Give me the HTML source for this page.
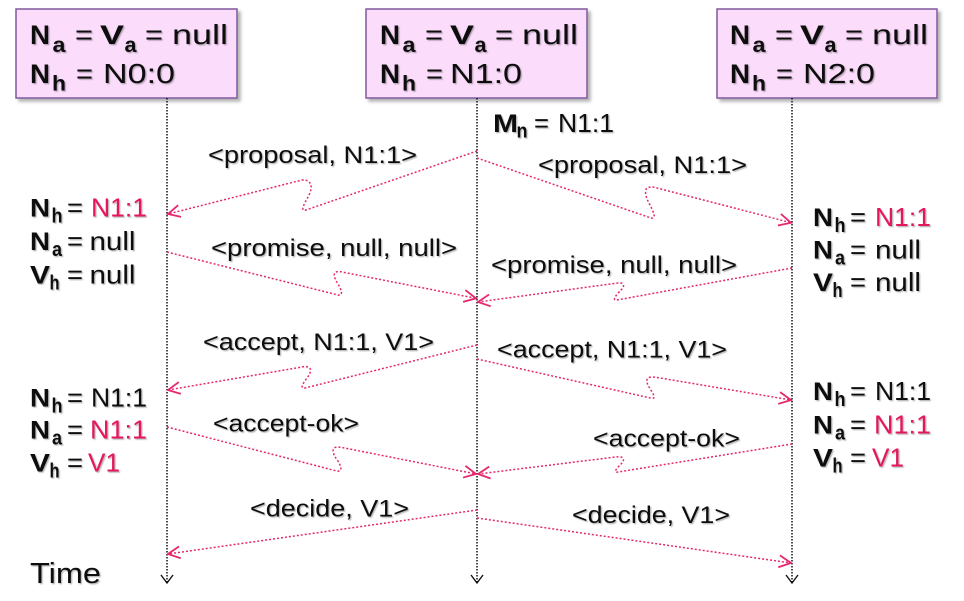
<!DOCTYPE html>
<html>
<head>
<meta charset="utf-8">
<style>
  html,body{margin:0;padding:0;background:#fff;}
  svg{display:block;}
  text{font-family:"Liberation Sans","DejaVu Sans",sans-serif;fill:#111;}
  .b{font-size:27px;font-weight:bold;}
  .s{font-size:21px;font-weight:bold;}
  .r{font-size:28px;}
  .lb{font-size:24px;}
  .sb{font-size:25px;font-weight:bold;}
  .ss{font-size:20px;font-weight:bold;}
  .sr{font-size:26px;}
  .pk{fill:#e3195f;}
  .msg{fill:none;stroke:#e6286e;stroke-width:1.5;stroke-dasharray:2 2;}
  .life{stroke:#111;stroke-width:1.5;stroke-dasharray:1.5 1.5;}
</style>
</head>
<body>
<svg width="964" height="601" viewBox="0 0 964 601" xmlns="http://www.w3.org/2000/svg">
<defs>
  <filter id="ts" x="-10%" y="-30%" width="125%" height="170%">
    <feDropShadow dx="1.2" dy="1.2" stdDeviation="0.6" flood-color="#000" flood-opacity="0.3"/>
  </filter>
  <filter id="bsh" x="-5%" y="-5%" width="115%" height="120%">
    <feDropShadow dx="3" dy="3" stdDeviation="1.5" flood-color="#000" flood-opacity="0.3"/>
  </filter>
  <marker id="ah" markerUnits="userSpaceOnUse" markerWidth="30" markerHeight="30" refX="15" refY="15" orient="auto" overflow="visible">
    <path d="M3,9 L15,15 L3,21" fill="none" stroke="#e6286e" stroke-width="1.8" stroke-dasharray="none"/>
  </marker>
</defs>

<!-- boxes -->
<rect x="16" y="9" width="221" height="89" fill="#fbdcfb" stroke="#7f5a9e" stroke-width="1.5" filter="url(#bsh)"/>
<rect x="366" y="9" width="221" height="89" fill="#fbdcfb" stroke="#7f5a9e" stroke-width="1.5" filter="url(#bsh)"/>
<rect x="717" y="9" width="220" height="89" fill="#fbdcfb" stroke="#7f5a9e" stroke-width="1.5" filter="url(#bsh)"/>

<!-- lifelines -->
<line class="life" x1="167" y1="98" x2="167" y2="583"/>
<line class="life" x1="477" y1="98" x2="477" y2="583"/>
<line class="life" x1="792" y1="98" x2="792" y2="583"/>
<path d="M161,575 L167,583 L173,575" fill="none" stroke="#111" stroke-width="1.4"/>
<path d="M471,575 L477,583 L483,575" fill="none" stroke="#111" stroke-width="1.4"/>
<path d="M786,575 L792,583 L798,575" fill="none" stroke="#111" stroke-width="1.4"/>

<!-- messages -->
<path class="msg" marker-end="url(#ah)" d="M477,151 L306,210 C300,212 304,204 307,199 C311,192 313,185 309,182 C307,180 305,180 302,180 L168,214"/>
<path class="msg" marker-end="url(#ah)" d="M477,158 L651,218 C657,219 653,211 650,205 C646,198 644,191 647,188 C649,187 651,187 653,187 L791,222.7"/>
<path class="msg" marker-end="url(#ah)" d="M167,252 L338,295 C344,296 341,289 338,284 C334,278 333,273 336,272 C338,271.5 340,271.5 342,272 L476,298.3"/>
<path class="msg" marker-end="url(#ah)" d="M792,268 L617,300 C611,301 617,294 621,290 C625,286 624,283 620,283 C618,283 616,283 614,283.5 L478,302"/>
<path class="msg" marker-end="url(#ah)" d="M477,345 L305,388 C299,389 304,382 307,378 C311,373 312,368 308,367 C306,366.5 304,366.5 302,367 L168,390"/>
<path class="msg" marker-end="url(#ah)" d="M477,359 L651.7,398.3 C657,399 652,392 649,387 C646,382 646,378 650,377.3 C652,377 654,377 656,377.3 L791,400"/>
<path class="msg" marker-end="url(#ah)" d="M167,427 L336.7,471 C343,472 341,466 338,461 C333,455 331,448 336,447.3 C338,447 340,447 342,447.5 L476,474"/>
<path class="msg" marker-end="url(#ah)" d="M792,444 L618,472 C612,473 618,467 621,464 C625,460 624,457 619,456.7 C617,456.7 615,457 613,457.3 L478,474"/>
<path class="msg" marker-end="url(#ah)" d="M477,510 L168,554"/>
<path class="msg" marker-end="url(#ah)" d="M477,518 L791,563"/>

<g filter="url(#ts)">
<!-- box 1 -->
<text class="b" x="30" y="44" textLength="20" lengthAdjust="spacingAndGlyphs">N</text>
<text class="s" x="52.5" y="52" textLength="13" lengthAdjust="spacingAndGlyphs">a</text>
<text class="r" x="75" y="44" textLength="18" lengthAdjust="spacingAndGlyphs">=</text>
<text class="b" x="100" y="44" textLength="24" lengthAdjust="spacingAndGlyphs">V</text>
<text class="s" x="124.5" y="52" textLength="12" lengthAdjust="spacingAndGlyphs">a</text>
<text class="r" x="145" y="44" textLength="18" lengthAdjust="spacingAndGlyphs">=</text>
<text class="r" x="172" y="44" textLength="56" lengthAdjust="spacingAndGlyphs">null</text>
<text class="b" x="30" y="83" textLength="20" lengthAdjust="spacingAndGlyphs">N</text>
<text class="s" x="52" y="90.5" textLength="14" lengthAdjust="spacingAndGlyphs">h</text>
<text class="r" x="76" y="83" textLength="17" lengthAdjust="spacingAndGlyphs">=</text>
<text class="r" x="103" y="83" textLength="72" lengthAdjust="spacingAndGlyphs">N0:0</text>

<!-- box 2 -->
<text class="b" x="380" y="44" textLength="20" lengthAdjust="spacingAndGlyphs">N</text>
<text class="s" x="402.5" y="52" textLength="13" lengthAdjust="spacingAndGlyphs">a</text>
<text class="r" x="425" y="44" textLength="18" lengthAdjust="spacingAndGlyphs">=</text>
<text class="b" x="450" y="44" textLength="24" lengthAdjust="spacingAndGlyphs">V</text>
<text class="s" x="474.5" y="52" textLength="12" lengthAdjust="spacingAndGlyphs">a</text>
<text class="r" x="495" y="44" textLength="18" lengthAdjust="spacingAndGlyphs">=</text>
<text class="r" x="522" y="44" textLength="56" lengthAdjust="spacingAndGlyphs">null</text>
<text class="b" x="380" y="83" textLength="20" lengthAdjust="spacingAndGlyphs">N</text>
<text class="s" x="402" y="90.5" textLength="14" lengthAdjust="spacingAndGlyphs">h</text>
<text class="r" x="426" y="83" textLength="17" lengthAdjust="spacingAndGlyphs">=</text>
<text class="r" x="450" y="83" textLength="72" lengthAdjust="spacingAndGlyphs">N1:0</text>

<!-- box 3 -->
<text class="b" x="730" y="44" textLength="20" lengthAdjust="spacingAndGlyphs">N</text>
<text class="s" x="752.5" y="52" textLength="13" lengthAdjust="spacingAndGlyphs">a</text>
<text class="r" x="775" y="44" textLength="18" lengthAdjust="spacingAndGlyphs">=</text>
<text class="b" x="800" y="44" textLength="24" lengthAdjust="spacingAndGlyphs">V</text>
<text class="s" x="824.5" y="52" textLength="12" lengthAdjust="spacingAndGlyphs">a</text>
<text class="r" x="845" y="44" textLength="18" lengthAdjust="spacingAndGlyphs">=</text>
<text class="r" x="872" y="44" textLength="56" lengthAdjust="spacingAndGlyphs">null</text>
<text class="b" x="730" y="83" textLength="20" lengthAdjust="spacingAndGlyphs">N</text>
<text class="s" x="752" y="90.5" textLength="14" lengthAdjust="spacingAndGlyphs">h</text>
<text class="r" x="776" y="83" textLength="17" lengthAdjust="spacingAndGlyphs">=</text>
<text class="r" x="803" y="83" textLength="72" lengthAdjust="spacingAndGlyphs">N2:0</text>

<!-- Mn -->
<text class="sb" x="493" y="132" textLength="25" lengthAdjust="spacingAndGlyphs">M</text>
<text class="ss" x="516.5" y="137.5" textLength="11" lengthAdjust="spacingAndGlyphs">n</text>
<text class="sr" x="534" y="132" textLength="15" lengthAdjust="spacingAndGlyphs">=</text>
<text class="sr" x="558" y="132" textLength="56" lengthAdjust="spacingAndGlyphs">N1:1</text>

<!-- message labels -->
<text class="lb" x="208" y="163" textLength="209" lengthAdjust="spacingAndGlyphs">&lt;proposal, N1:1&gt;</text>
<text class="lb" x="538" y="173" textLength="209" lengthAdjust="spacingAndGlyphs">&lt;proposal, N1:1&gt;</text>
<text class="lb" x="211" y="256" textLength="246" lengthAdjust="spacingAndGlyphs">&lt;promise, null, null&gt;</text>
<text class="lb" x="491" y="273" textLength="246" lengthAdjust="spacingAndGlyphs">&lt;promise, null, null&gt;</text>
<text class="lb" x="203" y="350" textLength="231" lengthAdjust="spacingAndGlyphs">&lt;accept, N1:1, V1&gt;</text>
<text class="lb" x="497" y="357.5" textLength="230" lengthAdjust="spacingAndGlyphs">&lt;accept, N1:1, V1&gt;</text>
<text class="lb" x="213" y="431.5" textLength="146" lengthAdjust="spacingAndGlyphs">&lt;accept-ok&gt;</text>
<text class="lb" x="593" y="446.5" textLength="147" lengthAdjust="spacingAndGlyphs">&lt;accept-ok&gt;</text>
<text class="lb" x="250" y="516.5" textLength="159" lengthAdjust="spacingAndGlyphs">&lt;decide, V1&gt;</text>
<text class="lb" x="572" y="523" textLength="158" lengthAdjust="spacingAndGlyphs">&lt;decide, V1&gt;</text>

<!-- left top state -->
<text class="sb" x="30" y="216.5" textLength="20" lengthAdjust="spacingAndGlyphs">N</text>
<text class="ss" x="51.5" y="222.5" textLength="11" lengthAdjust="spacingAndGlyphs">h</text>
<text class="sr" x="67" y="216.5" textLength="16" lengthAdjust="spacingAndGlyphs">=</text>
<text class="sr pk" x="91" y="216.5" textLength="56" lengthAdjust="spacingAndGlyphs">N1:1</text>
<text class="sb" x="30" y="250" textLength="20" lengthAdjust="spacingAndGlyphs">N</text>
<text class="ss" x="52" y="256" textLength="10" lengthAdjust="spacingAndGlyphs">a</text>
<text class="sr" x="67" y="250" textLength="16" lengthAdjust="spacingAndGlyphs">=</text>
<text class="sr" x="89.5" y="250" textLength="46" lengthAdjust="spacingAndGlyphs">null</text>
<text class="sb" x="30" y="283.5" textLength="20" lengthAdjust="spacingAndGlyphs">V</text>
<text class="ss" x="49.5" y="289.5" textLength="10" lengthAdjust="spacingAndGlyphs">h</text>
<text class="sr" x="67" y="283.5" textLength="16" lengthAdjust="spacingAndGlyphs">=</text>
<text class="sr" x="89.5" y="283.5" textLength="46" lengthAdjust="spacingAndGlyphs">null</text>

<!-- right top state -->
<text class="sb" x="813" y="226" textLength="20" lengthAdjust="spacingAndGlyphs">N</text>
<text class="ss" x="834.5" y="232" textLength="11" lengthAdjust="spacingAndGlyphs">h</text>
<text class="sr" x="850" y="226" textLength="16" lengthAdjust="spacingAndGlyphs">=</text>
<text class="sr pk" x="875" y="226" textLength="56" lengthAdjust="spacingAndGlyphs">N1:1</text>
<text class="sb" x="813" y="258.5" textLength="20" lengthAdjust="spacingAndGlyphs">N</text>
<text class="ss" x="835" y="264.5" textLength="10" lengthAdjust="spacingAndGlyphs">a</text>
<text class="sr" x="850" y="258.5" textLength="16" lengthAdjust="spacingAndGlyphs">=</text>
<text class="sr" x="875" y="258.5" textLength="46" lengthAdjust="spacingAndGlyphs">null</text>
<text class="sb" x="813" y="291" textLength="20" lengthAdjust="spacingAndGlyphs">V</text>
<text class="ss" x="832.5" y="297" textLength="10" lengthAdjust="spacingAndGlyphs">h</text>
<text class="sr" x="850" y="291" textLength="16" lengthAdjust="spacingAndGlyphs">=</text>
<text class="sr" x="875" y="291" textLength="46" lengthAdjust="spacingAndGlyphs">null</text>

<!-- left bottom state -->
<text class="sb" x="30" y="406.5" textLength="20" lengthAdjust="spacingAndGlyphs">N</text>
<text class="ss" x="51.5" y="412.5" textLength="11" lengthAdjust="spacingAndGlyphs">h</text>
<text class="sr" x="67" y="406.5" textLength="16" lengthAdjust="spacingAndGlyphs">=</text>
<text class="sr" x="91" y="406.5" textLength="56" lengthAdjust="spacingAndGlyphs">N1:1</text>
<text class="sb" x="30" y="438.5" textLength="20" lengthAdjust="spacingAndGlyphs">N</text>
<text class="ss" x="52" y="444.5" textLength="10" lengthAdjust="spacingAndGlyphs">a</text>
<text class="sr" x="67" y="438.5" textLength="16" lengthAdjust="spacingAndGlyphs">=</text>
<text class="sr pk" x="90" y="438.5" textLength="57" lengthAdjust="spacingAndGlyphs">N1:1</text>
<text class="sb" x="30" y="471.5" textLength="20" lengthAdjust="spacingAndGlyphs">V</text>
<text class="ss" x="49.5" y="477.5" textLength="10" lengthAdjust="spacingAndGlyphs">h</text>
<text class="sr" x="67" y="471.5" textLength="16" lengthAdjust="spacingAndGlyphs">=</text>
<text class="sr pk" x="88" y="471.5" textLength="32" lengthAdjust="spacingAndGlyphs">V1</text>

<!-- right bottom state -->
<text class="sb" x="813" y="400" textLength="20" lengthAdjust="spacingAndGlyphs">N</text>
<text class="ss" x="834.5" y="406" textLength="11" lengthAdjust="spacingAndGlyphs">h</text>
<text class="sr" x="850" y="400" textLength="16" lengthAdjust="spacingAndGlyphs">=</text>
<text class="sr" x="875" y="400" textLength="56" lengthAdjust="spacingAndGlyphs">N1:1</text>
<text class="sb" x="813" y="433.5" textLength="20" lengthAdjust="spacingAndGlyphs">N</text>
<text class="ss" x="835" y="439.5" textLength="10" lengthAdjust="spacingAndGlyphs">a</text>
<text class="sr" x="850" y="433.5" textLength="16" lengthAdjust="spacingAndGlyphs">=</text>
<text class="sr pk" x="874" y="433.5" textLength="57" lengthAdjust="spacingAndGlyphs">N1:1</text>
<text class="sb" x="813" y="466.5" textLength="20" lengthAdjust="spacingAndGlyphs">V</text>
<text class="ss" x="832.5" y="472.5" textLength="10" lengthAdjust="spacingAndGlyphs">h</text>
<text class="sr" x="850" y="466.5" textLength="16" lengthAdjust="spacingAndGlyphs">=</text>
<text class="sr pk" x="872" y="466.5" textLength="32" lengthAdjust="spacingAndGlyphs">V1</text>

<!-- Time -->
<text x="30" y="583" style="font-size:29px;" textLength="71" lengthAdjust="spacingAndGlyphs">Time</text>
</g>
</svg>
</body>
</html>
